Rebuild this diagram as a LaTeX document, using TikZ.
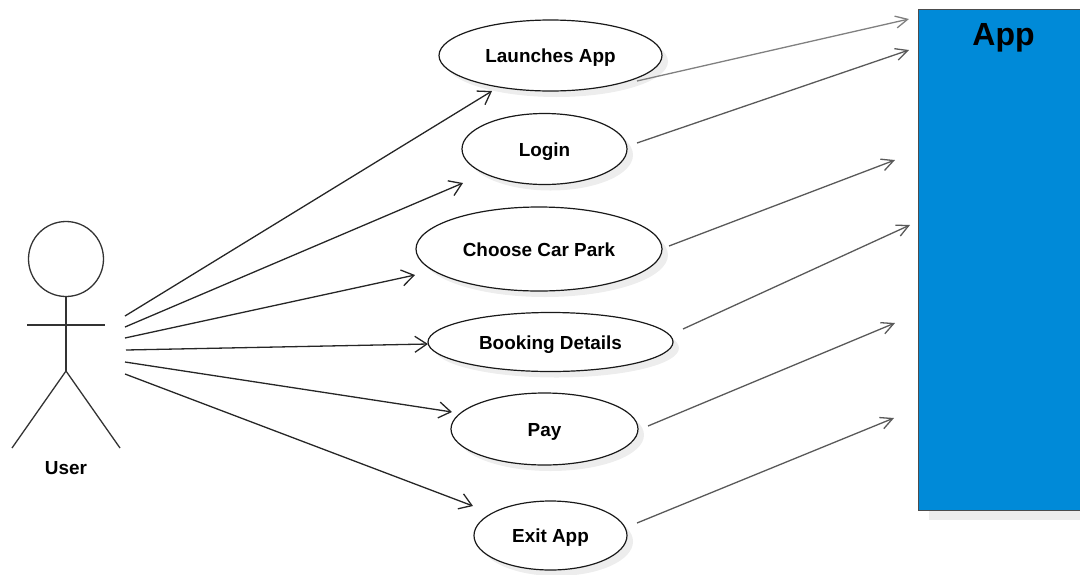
\documentclass[tikz,border=0pt]{standalone}
\usepackage{fontspec}
\setmainfont{Liberation Sans}
\usetikzlibrary{arrows.meta, shadows, shapes.geometric}

\begin{document}
\begin{tikzpicture}[x=1pt, y=-1pt]

    \tikzstyle{use case} = [ellipse, draw=black!90, fill=white, line width = 1.2,
                            drop shadow={shadow xshift=6pt, shadow yshift=-6pt,
                                         fill=black, opacity=0.07},
                            inner sep=0pt, text height=14pt, text depth=0pt,
                            font=\fontsize{18.9}{20}\selectfont\bfseries];
    \tikzstyle{actor line} = [line width = 1.3, black!80];
    \tikzstyle{user arrow} = [->, >={Straight Barb[length=12pt, width=16pt]},
                              line width = 1.3, black!85];
    \tikzstyle{app arrow} = [->, >={Straight Barb[length=12pt, width=12pt]},
                             line width = 1.3, black!65];

    \useasboundingbox (0,0) rectangle (1080,574);

    % Actor
    \node[circle, draw, actor line, minimum size=75pt, inner sep=0pt] (head) at (66,259) {};
    \coordinate (hip) at (66,371);
    \coordinate (armL) at (27,325);
    \coordinate (armR) at (105,325);
    \coordinate (legL) at (12,448);
    \coordinate (legR) at (120,448);
    \draw [actor line] (head.south) -- (hip);
    \draw [actor line] (armL) -- (armR);
    \draw [actor line] (hip) -- (legL);
    \draw [actor line] (hip) -- (legR);
    \node[font=\fontsize{18.9}{20}\selectfont\bfseries] (user) at (66,468) {User};

    % Use cases
    \node[use case, minimum width=223pt, minimum height=71pt] (launch) at (550.5,55.5) {Launches App};
    \node[use case, minimum width=165pt, minimum height=71pt] (login) at (544.5,149) {Login};
    \node[use case, minimum width=246pt, minimum height=84pt] (park) at (539,249) {Choose Car Park};
    \node[use case, minimum width=245pt, minimum height=59pt] (booking) at (550.5,342) {Booking Details};
    \node[use case, minimum width=187pt, minimum height=72pt] (pay) at (544.5,429) {Pay};
    \node[use case, minimum width=153pt, minimum height=69pt] (exit) at (550.5,535.5) {Exit App};

    % App box
    \node[draw=black!70, fill={rgb,255:red,0;green,138;blue,216}, line width = 1.3,
          minimum width=180pt, minimum height=501pt, anchor=north west,
          inner sep=0pt,
          drop shadow={shadow xshift=10pt, shadow yshift=-9pt,
                       fill=black, opacity=0.07}] (app) at (918,9) {};
    \node[font=\fontsize{32}{34}\selectfont\bfseries] (applabel) at (1003.5,38) {App};

    % Free ends at the user
    \coordinate (u1) at (125,316);
    \coordinate (u2) at (125,327);
    \coordinate (u3) at (125,338);
    \coordinate (u4) at (126,350);
    \coordinate (u5) at (125,362);
    \coordinate (u6) at (125,374);

    % Free ends at the use cases
    \coordinate (t1) at (492,91);
    \coordinate (t2) at (463,183);
    \coordinate (t3) at (415,275);
    \coordinate (t4) at (428,344);
    \coordinate (t5) at (452,412);
    \coordinate (t6) at (473,506);

    \draw [user arrow] (u1) -- (t1);
    \draw [user arrow] (u2) -- (t2);
    \draw [user arrow] (u3) -- (t3);
    \draw [user arrow] (u4) -- (t4);
    \draw [user arrow] (u5) -- (t5);
    \draw [user arrow] (u6) -- (t6);

    % Arrows towards the app
    \coordinate (s1) at (637,81);
    \coordinate (s2) at (637,143);
    \coordinate (s3) at (669,246);
    \coordinate (s4) at (683,329);
    \coordinate (s5) at (648,426);
    \coordinate (s6) at (637,523);
    \coordinate (a1) at (909,19);
    \coordinate (a2) at (909,50);
    \coordinate (a3) at (895,160);
    \coordinate (a4) at (910,225);
    \coordinate (a5) at (895,323);
    \coordinate (a6) at (894,418);

    \draw [app arrow, black!50] (s1) -- (a1);
    \draw [app arrow] (s2) -- (a2);
    \draw [app arrow] (s3) -- (a3);
    \draw [app arrow] (s4) -- (a4);
    \draw [app arrow] (s5) -- (a5);
    \draw [app arrow] (s6) -- (a6);

\end{tikzpicture}
\end{document}
